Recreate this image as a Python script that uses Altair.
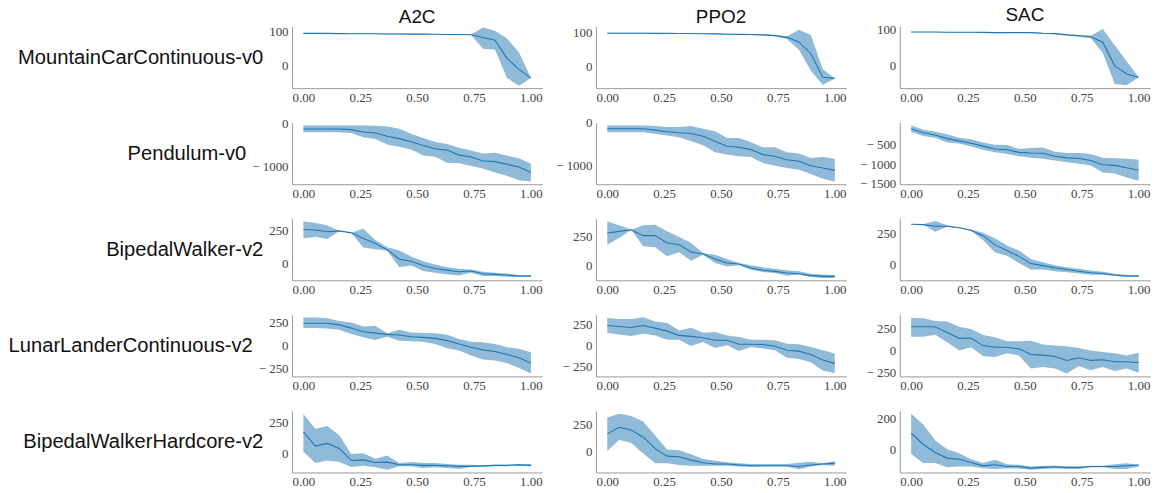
import altair as alt
import pandas as pd

ALGOS = ["A2C", "PPO2", "SAC"]
ENVS = ["MountainCarContinuous-v0", "Pendulum-v0", "BipedalWalker-v2",
        "LunarLanderContinuous-v2", "BipedalWalkerHardcore-v2"]
X_TICKS = [0.0, 0.25, 0.5, 0.75, 1.0]
N_POINTS = 20

# ---------------- MountainCarContinuous-v0 ----------------
MC_A2C_MEAN = [95, 95, 95, 94.5, 94, 94, 94, 93.5, 93.5, 93, 93, 92.5, 92, 92, 91, 83, 75, 22, -10, -35]
MC_A2C_LO = [94, 94, 94, 93.5, 93, 93, 93, 92.5, 92.5, 92, 92, 91.5, 91, 91, 90, 50, 48, -35, -58, -35]
MC_A2C_HI = [96, 96, 96, 95.5, 95, 95, 95, 94.5, 94.5, 94, 94, 93.5, 93, 93, 92, 112, 103, 80, 40, -35]
MC_PPO2_MEAN = [97, 97, 97, 97, 96.5, 96.5, 96, 96, 95.5, 95, 94, 93.5, 93, 92, 90, 85, 72, 38, -30, -33]
MC_PPO2_LO = [96, 96, 96, 96, 95.5, 95.5, 95, 95, 94.5, 94, 93, 92.5, 92, 90, 88, 80, 50, -11, -52, -33]
MC_PPO2_HI = [98, 98, 98, 98, 97.5, 97.5, 97, 97, 96.5, 96, 95, 94.5, 94, 93, 92, 88, 107, 92, -7, -33]
MC_SAC_MEAN = [93.5, 93.5, 93.5, 93, 93, 93, 92.5, 92, 92, 92, 92, 90, 89, 86, 83, 80, 65, -2, -25, -34]
MC_SAC_LO = [93, 93, 93, 92, 92, 92, 91.5, 90, 91, 91, 91, 88, 87, 83, 80, 76, 35, -53, -57, -34]
MC_SAC_HI = [94, 94, 94, 94, 94, 94, 93.5, 93, 93, 93, 93, 91, 90, 88, 85, 83, 102, 56, 11, -34]

# ---------------- Pendulum-v0 ----------------
PE_A2C_MEAN = [-136, -136, -136, -136, -150, -205, -227, -300, -356, -430, -515, -590, -620, -735, -780, -870, -885, -947, -1008, -1136]
PE_A2C_LO = [-212, -212, -212, -212, -227, -325, -363, -492, -545, -606, -742, -773, -909, -924, -985, -1045, -1136, -1212, -1310, -1340]
PE_A2C_HI = [-53, -53, -53, -53, -53, -53, -60, -75, -129, -242, -340, -432, -477, -568, -629, -697, -682, -742, -810, -932]
PE_PPO2_MEAN = [-140, -140, -140, -140, -172, -211, -234, -250, -312, -430, -547, -570, -625, -742, -781, -860, -898, -1000, -1055, -1110]
PE_PPO2_LO = [-219, -219, -219, -219, -258, -297, -336, -430, -523, -687, -742, -781, -797, -937, -1000, -1055, -1094, -1195, -1305, -1367]
PE_PPO2_HI = [-62, -62, -62, -62, -78, -100, -100, -78, -140, -195, -352, -352, -453, -570, -570, -687, -718, -820, -797, -836]
PE_SAC_MEAN = [-92, -192, -250, -342, -400, -458, -533, -608, -625, -692, -708, -717, -792, -833, -850, -900, -1008, -1025, -1083, -1150]
PE_SAC_LO = [-167, -275, -317, -442, -467, -542, -625, -692, -733, -792, -833, -858, -900, -942, -983, -1025, -1208, -1233, -1333, -1417]
PE_SAC_HI = [-8, -108, -167, -233, -317, -358, -442, -500, -508, -608, -583, -567, -675, -708, -708, -733, -833, -842, -858, -883]

# ---------------- BipedalWalker-v2 ----------------
BW_A2C_MEAN = [260, 257, 243, 250, 235, 193, 156, 106, 37, 20, -12, -35, -47, -59, -54, -74, -79, -84, -92, -92]
BW_A2C_LO = [193, 205, 188, 250, 235, 124, 111, 101, -25, -12, -54, -67, -79, -87, -67, -92, -92, -97, -99, -99]
BW_A2C_HI = [322, 309, 292, 250, 235, 267, 181, 126, 101, 57, 20, -5, -25, -37, -42, -59, -67, -74, -84, -84]
BW_PPO2_MEAN = [279, 293, 307, 256, 256, 193, 178, 115, 98, 55, 20, 11, -23, -43, -52, -66, -72, -89, -95, -95]
BW_PPO2_LO = [178, 236, 307, 164, 155, 78, 112, 40, 92, 20, -9, 0, -37, -57, -66, -89, -80, -101, -109, -109]
BW_PPO2_HI = [379, 345, 307, 345, 351, 293, 244, 193, 106, 92, 55, 20, 0, -17, -29, -43, -52, -72, -80, -86]
BW_SAC_MEAN = [324, 321, 308, 308, 295, 276, 232, 158, 113, 66, 8, -8, -26, -39, -53, -66, -71, -84, -92, -92]
BW_SAC_LO = [324, 321, 263, 303, 292, 271, 197, 97, 71, 13, -39, -39, -53, -61, -71, -82, -82, -92, -100, -100]
BW_SAC_HI = [324, 324, 350, 316, 297, 282, 255, 211, 153, 113, 45, 18, -5, -21, -34, -47, -58, -74, -82, -84]

# ---------------- LunarLanderContinuous-v2 ----------------
LL_A2C_MEAN = [239, 239, 239, 221, 186, 146, 132, 118, 111, 93, 86, 75, 50, 14, -21, -50, -68, -100, -136, -193]
LL_A2C_LO = [186, 186, 182, 168, 121, 86, 57, 93, 50, 43, 39, 14, -32, -57, -111, -154, -164, -193, -246, -307]
LL_A2C_HI = [300, 300, 293, 264, 246, 204, 211, 129, 168, 139, 132, 129, 114, 68, 39, 32, 14, -21, -39, -75]
LL_PPO2_MEAN = [235, 223, 212, 235, 204, 169, 119, 108, 92, 62, 62, 15, 15, 12, -8, -54, -65, -104, -169, -208]
LL_PPO2_LO = [146, 131, 112, 138, 119, 69, 69, -4, 42, -27, 4, -62, -15, -35, -54, -142, -158, -196, -292, -323]
LL_PPO2_HI = [323, 312, 312, 331, 281, 265, 177, 208, 150, 158, 119, 100, 69, 69, 62, 23, 15, -15, -54, -92]
LL_SAC_MEAN = [265, 265, 265, 201, 134, 138, 52, 34, 34, 15, -49, -56, -71, -116, -86, -116, -108, -131, -131, -142]
LL_SAC_LO = [153, 153, 175, 90, -4, 34, -67, -78, -34, -60, -209, -190, -209, -265, -179, -228, -190, -235, -209, -257]
LL_SAC_HI = [369, 362, 332, 325, 265, 239, 172, 146, 101, 101, 108, 63, 52, 45, 26, -4, -22, -34, -60, -30]

# ---------------- BipedalWalkerHardcore-v2 ----------------
BH_A2C_MEAN = [171, 58, 79, 39, -58, -53, -74, -71, -92, -92, -97, -97, -100, -105, -105, -100, -97, -97, -92, -97]
BH_A2C_LO = [13, -79, -58, -71, -111, -100, -113, -132, -105, -105, -118, -113, -118, -126, -111, -113, -105, -105, -100, -105]
BH_A2C_HI = [316, 197, 218, 145, -5, 0, -45, -18, -79, -71, -79, -79, -87, -92, -92, -97, -92, -92, -87, -87]
BH_PPO2_MEAN = [162, 221, 197, 132, 29, -38, -44, -74, -97, -109, -109, -118, -126, -124, -124, -124, -132, -118, -109, -103]
BH_PPO2_LO = [9, 109, 79, -15, -103, -103, -118, -124, -124, -124, -124, -132, -132, -132, -132, -132, -156, -132, -118, -124]
BH_PPO2_HI = [309, 344, 324, 274, 147, 21, 15, -21, -65, -79, -94, -103, -109, -109, -109, -109, -97, -88, -103, -82]
BH_SAC_MEAN = [103, 32, -22, -58, -65, -86, -108, -101, -112, -112, -123, -118, -114, -118, -118, -112, -112, -112, -108, -103]
BH_SAC_LO = [-32, -90, -90, -118, -112, -112, -123, -129, -125, -125, -133, -129, -125, -129, -129, -118, -118, -129, -129, -112]
BH_SAC_HI = [230, 161, 58, 0, -26, -65, -90, -69, -97, -101, -112, -108, -108, -112, -112, -108, -108, -97, -92, -101]

SERIES = {
    ("MountainCarContinuous-v0", "A2C"): (MC_A2C_MEAN, MC_A2C_LO, MC_A2C_HI),
    ("MountainCarContinuous-v0", "PPO2"): (MC_PPO2_MEAN, MC_PPO2_LO, MC_PPO2_HI),
    ("MountainCarContinuous-v0", "SAC"): (MC_SAC_MEAN, MC_SAC_LO, MC_SAC_HI),
    ("Pendulum-v0", "A2C"): (PE_A2C_MEAN, PE_A2C_LO, PE_A2C_HI),
    ("Pendulum-v0", "PPO2"): (PE_PPO2_MEAN, PE_PPO2_LO, PE_PPO2_HI),
    ("Pendulum-v0", "SAC"): (PE_SAC_MEAN, PE_SAC_LO, PE_SAC_HI),
    ("BipedalWalker-v2", "A2C"): (BW_A2C_MEAN, BW_A2C_LO, BW_A2C_HI),
    ("BipedalWalker-v2", "PPO2"): (BW_PPO2_MEAN, BW_PPO2_LO, BW_PPO2_HI),
    ("BipedalWalker-v2", "SAC"): (BW_SAC_MEAN, BW_SAC_LO, BW_SAC_HI),
    ("LunarLanderContinuous-v2", "A2C"): (LL_A2C_MEAN, LL_A2C_LO, LL_A2C_HI),
    ("LunarLanderContinuous-v2", "PPO2"): (LL_PPO2_MEAN, LL_PPO2_LO, LL_PPO2_HI),
    ("LunarLanderContinuous-v2", "SAC"): (LL_SAC_MEAN, LL_SAC_LO, LL_SAC_HI),
    ("BipedalWalkerHardcore-v2", "A2C"): (BH_A2C_MEAN, BH_A2C_LO, BH_A2C_HI),
    ("BipedalWalkerHardcore-v2", "PPO2"): (BH_PPO2_MEAN, BH_PPO2_LO, BH_PPO2_HI),
    ("BipedalWalkerHardcore-v2", "SAC"): (BH_SAC_MEAN, BH_SAC_LO, BH_SAC_HI),
}

# y-axis ticks and domains (per panel)
Y_TICKS = {
    "MountainCarContinuous-v0": {"A2C": [0, 100], "PPO2": [0, 100], "SAC": [0, 100]},
    "Pendulum-v0": {"A2C": [0, -1000], "PPO2": [0, -1000], "SAC": [-500, -1000, -1500]},
    "BipedalWalker-v2": {"A2C": [0, 250], "PPO2": [0, 250], "SAC": [0, 250]},
    "LunarLanderContinuous-v2": {"A2C": [-250, 0, 250], "PPO2": [-250, 0, 250], "SAC": [-250, 0, 250]},
    "BipedalWalkerHardcore-v2": {"A2C": [0, 250], "PPO2": [0, 250], "SAC": [0, 200]},
}
Y_DOMAINS = {
    "MountainCarContinuous-v0": {"A2C": [-65, 115], "PPO2": [-61, 116], "SAC": [-65, 109]},
    "Pendulum-v0": {"A2C": [-1404, 11], "PPO2": [-1432, 3], "SAC": [-1505, 65]},
    "BipedalWalker-v2": {"A2C": [-124, 342], "PPO2": [-129, 402], "SAC": [-126, 368]},
    "LunarLanderContinuous-v2": {"A2C": [-337, 330], "PPO2": [-360, 360], "SAC": [-297, 401]},
    "BipedalWalkerHardcore-v2": {"A2C": [-154, 340], "PPO2": [-185, 369], "SAC": [-151, 248]},
}

LINE_COLOR = "#1f77b4"
TICK_FONT = "Liberation Serif"
TEXT_FONT = "Liberation Sans"

W, H = 252, 62

panels = []
for r, env in enumerate(ENVS):
    for c, algo in enumerate(ALGOS):
        mean, lo, hi = SERIES[(env, algo)]
        df = pd.DataFrame({
            "x": [i / (N_POINTS - 1) for i in range(N_POINTS)],
            "mean": mean, "lo": lo, "hi": hi,
        })
        xscale = alt.Scale(domain=[-0.05, 1.05], nice=False, zero=False)
        xaxis = alt.Axis(values=X_TICKS, format=".2f", title=None)
        yaxis_kwargs = dict(values=Y_TICKS[env][algo], format="d", labelOverlap=False,
                            labelExpr="replace(datum.label, '\u2212', '\u2212 ')")
        if c == 0:
            yaxis_kwargs.update(title=env, titleAngle=0, titleAlign="right",
                                titleBaseline="middle", titlePadding=6,
                                titleFont=TEXT_FONT, titleFontSize=20.3,
                                titleFontWeight="normal", titleColor="#111")
        else:
            yaxis_kwargs.update(title=None)
        yaxis = alt.Axis(**yaxis_kwargs)
        yscale = alt.Scale(domain=Y_DOMAINS[env][algo], nice=False, zero=False)
        base = alt.Chart(df)
        band = base.mark_area(color=LINE_COLOR, opacity=0.5).encode(
            x=alt.X("x:Q", scale=xscale, axis=xaxis),
            y=alt.Y("lo:Q", scale=yscale, axis=yaxis),
            y2="hi:Q",
        )
        line = base.mark_line(color=LINE_COLOR, strokeWidth=1.1).encode(
            x=alt.X("x:Q", scale=xscale, axis=xaxis),
            y=alt.Y("mean:Q", scale=yscale, axis=yaxis),
        )
        layer = alt.layer(band, line).properties(width=W, height=H)
        if r == 0:
            layer = layer.properties(title=alt.Title(algo, font=TEXT_FONT, fontSize=19,
                                                     fontWeight="normal", color="#111",
                                                     anchor="middle", offset=-1))
        panels.append(layer)

chart = alt.concat(*panels, columns=3, spacing={"row": 34.75, "column": 54},
                   bounds="flush").properties(
    padding={"left": 0, "top": -4, "right": 5, "bottom": 5}
).configure_view(stroke=None).configure_axis(
    grid=False, ticks=False, tickSize=0, domainColor="#999999", domainWidth=1,
    labelFont=TICK_FONT, labelFontSize=13, labelColor="#444444", labelPadding=4,
    labelOverlap=False,
).configure_axisX(labelPadding=3)

chart.save("out.html", embed_options={"renderer": "svg", "actions": False})
